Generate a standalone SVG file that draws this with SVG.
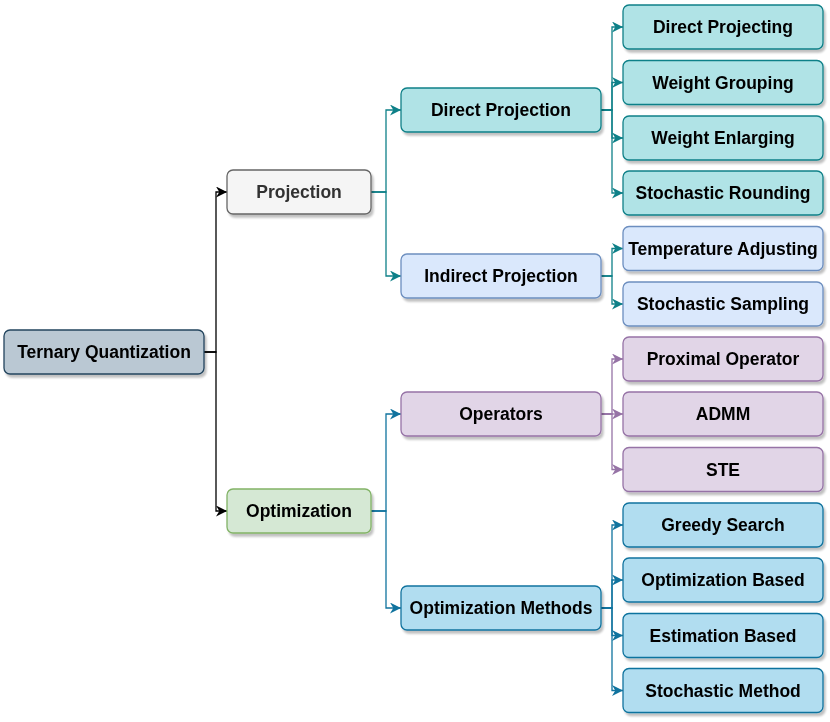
<svg xmlns="http://www.w3.org/2000/svg" width="830" height="722" viewBox="0 0 830 722">
<defs>
<filter id="sh" x="-10%" y="-20%" width="130%" height="160%">
<feGaussianBlur in="SourceAlpha" stdDeviation="1"/>
<feOffset dx="2" dy="3" result="o"/>
<feComponentTransfer><feFuncA type="linear" slope="0.25"/></feComponentTransfer>
<feMerge><feMergeNode/><feMergeNode in="SourceGraphic"/></feMerge>
</filter>
<marker id="aK" viewBox="0 0 10 10" refX="10" refY="5" markerWidth="11" markerHeight="11" markerUnits="userSpaceOnUse" orient="auto"><path d="M0,0 L10,5 L0,10 L3,5 Z" fill="#000"/></marker>
<marker id="aT" viewBox="0 0 10 10" refX="10" refY="5" markerWidth="11" markerHeight="11" markerUnits="userSpaceOnUse" orient="auto"><path d="M0,0 L10,5 L0,10 L3,5 Z" fill="#0e8088"/></marker>
<marker id="aB" viewBox="0 0 10 10" refX="10" refY="5" markerWidth="11" markerHeight="11" markerUnits="userSpaceOnUse" orient="auto"><path d="M0,0 L10,5 L0,10 L3,5 Z" fill="#10739e"/></marker>
<marker id="aP" viewBox="0 0 10 10" refX="10" refY="5" markerWidth="11" markerHeight="11" markerUnits="userSpaceOnUse" orient="auto"><path d="M0,0 L10,5 L0,10 L3,5 Z" fill="#9673a6"/></marker>
</defs>
<style>
text{font-family:"Liberation Sans",Arial,Helvetica,sans-serif;font-weight:bold;font-size:17.5px;text-anchor:middle;dominant-baseline:central;fill:#000}
rect{stroke-width:1.3}
.root{fill:#bac8d3;stroke:#23445d}
.proj{fill:#f5f5f5;stroke:#666666}
.opt{fill:#d5e8d4;stroke:#82b366}
.dp{fill:#b0e3e6;stroke:#0e8088}
.ip{fill:#dae8fc;stroke:#6c8ebf}
.op{fill:#e1d5e7;stroke:#9673a6}
.om{fill:#b1ddf0;stroke:#10739e}
.c{fill:none;stroke-width:1.3}
.k{stroke:#000}
.t{stroke:#0e8088}
.b{stroke:#10739e}
.p{stroke:#9673a6}
</style>
<g id="connectors">
<path class="c k" d="M204,352 H216 V192 H227" marker-end="url(#aK)"/>
<path class="c k" d="M204,352 H216 V511 H227" marker-end="url(#aK)"/>
<path class="c t" d="M371,192 H386 V110 H401" marker-end="url(#aT)"/>
<path class="c t" d="M371,192 H386 V276 H401" marker-end="url(#aT)"/>
<path class="c b" d="M371,511 H386 V414 H401" marker-end="url(#aB)"/>
<path class="c b" d="M371,511 H386 V608 H401" marker-end="url(#aB)"/>
<path class="c t" d="M601,110 H612 V27 H623" marker-end="url(#aT)"/>
<path class="c t" d="M601,110 H612 V82.5 H623" marker-end="url(#aT)"/>
<path class="c t" d="M601,110 H612 V138 H623" marker-end="url(#aT)"/>
<path class="c t" d="M601,110 H612 V193 H623" marker-end="url(#aT)"/>
<path class="c t" d="M601,276 H612 V248.5 H623" marker-end="url(#aT)"/>
<path class="c t" d="M601,276 H612 V304 H623" marker-end="url(#aT)"/>
<path class="c p" d="M601,414 H612 V359 H623" marker-end="url(#aP)"/>
<path class="c p" d="M601,414 H623" marker-end="url(#aP)"/>
<path class="c p" d="M601,414 H612 V469.5 H623" marker-end="url(#aP)"/>
<path class="c b" d="M601,608 H612 V525 H623" marker-end="url(#aB)"/>
<path class="c b" d="M601,608 H612 V580 H623" marker-end="url(#aB)"/>
<path class="c b" d="M601,608 H612 V635.5 H623" marker-end="url(#aB)"/>
<path class="c b" d="M601,608 H612 V690.5 H623" marker-end="url(#aB)"/>
</g>
<g id="n-root" filter="url(#sh)"><rect class="root" x="4" y="330" width="200" height="44" rx="6"/><text x="104" y="352">Ternary Quantization</text></g>
<g id="n-projection" filter="url(#sh)"><rect class="proj" x="227" y="170" width="144" height="44" rx="6"/><text x="299" y="192" style="fill:#333333">Projection</text></g>
<g id="n-optimization" filter="url(#sh)"><rect class="opt" x="227" y="489" width="144" height="44" rx="6"/><text x="299" y="511">Optimization</text></g>
<g id="n-direct-projection" filter="url(#sh)"><rect class="dp" x="401" y="88" width="200" height="44" rx="6"/><text x="501" y="110">Direct Projection</text></g>
<g id="n-indirect-projection" filter="url(#sh)"><rect class="ip" x="401" y="254" width="200" height="44" rx="6"/><text x="501" y="276">Indirect Projection</text></g>
<g id="n-operators" filter="url(#sh)"><rect class="op" x="401" y="392" width="200" height="44" rx="6"/><text x="501" y="414">Operators</text></g>
<g id="n-optimization-methods" filter="url(#sh)"><rect class="om" x="401" y="586" width="200" height="44" rx="6"/><text x="501" y="608">Optimization Methods</text></g>
<g id="n-direct-projecting" filter="url(#sh)"><rect class="dp" x="623" y="5" width="200" height="44" rx="6"/><text x="723" y="27">Direct Projecting</text></g>
<g id="n-weight-grouping" filter="url(#sh)"><rect class="dp" x="623" y="60.5" width="200" height="44" rx="6"/><text x="723" y="82.5">Weight Grouping</text></g>
<g id="n-weight-enlarging" filter="url(#sh)"><rect class="dp" x="623" y="116" width="200" height="44" rx="6"/><text x="723" y="138">Weight Enlarging</text></g>
<g id="n-stochastic-rounding" filter="url(#sh)"><rect class="dp" x="623" y="171" width="200" height="44" rx="6"/><text x="723" y="193">Stochastic Rounding</text></g>
<g id="n-temperature-adjusting" filter="url(#sh)"><rect class="ip" x="623" y="226.5" width="200" height="44" rx="6"/><text x="723" y="248.5">Temperature Adjusting</text></g>
<g id="n-stochastic-sampling" filter="url(#sh)"><rect class="ip" x="623" y="282" width="200" height="44" rx="6"/><text x="723" y="304">Stochastic Sampling</text></g>
<g id="n-proximal-operator" filter="url(#sh)"><rect class="op" x="623" y="337" width="200" height="44" rx="6"/><text x="723" y="359">Proximal Operator</text></g>
<g id="n-admm" filter="url(#sh)"><rect class="op" x="623" y="392" width="200" height="44" rx="6"/><text x="723" y="414">ADMM</text></g>
<g id="n-ste" filter="url(#sh)"><rect class="op" x="623" y="447.5" width="200" height="44" rx="6"/><text x="723" y="469.5">STE</text></g>
<g id="n-greedy-search" filter="url(#sh)"><rect class="om" x="623" y="503" width="200" height="44" rx="6"/><text x="723" y="525">Greedy Search</text></g>
<g id="n-optimization-based" filter="url(#sh)"><rect class="om" x="623" y="558" width="200" height="44" rx="6"/><text x="723" y="580">Optimization Based</text></g>
<g id="n-estimation-based" filter="url(#sh)"><rect class="om" x="623" y="613.5" width="200" height="44" rx="6"/><text x="723" y="635.5">Estimation Based</text></g>
<g id="n-stochastic-method" filter="url(#sh)"><rect class="om" x="623" y="668.5" width="200" height="44" rx="6"/><text x="723" y="690.5">Stochastic Method</text></g>
</svg>
